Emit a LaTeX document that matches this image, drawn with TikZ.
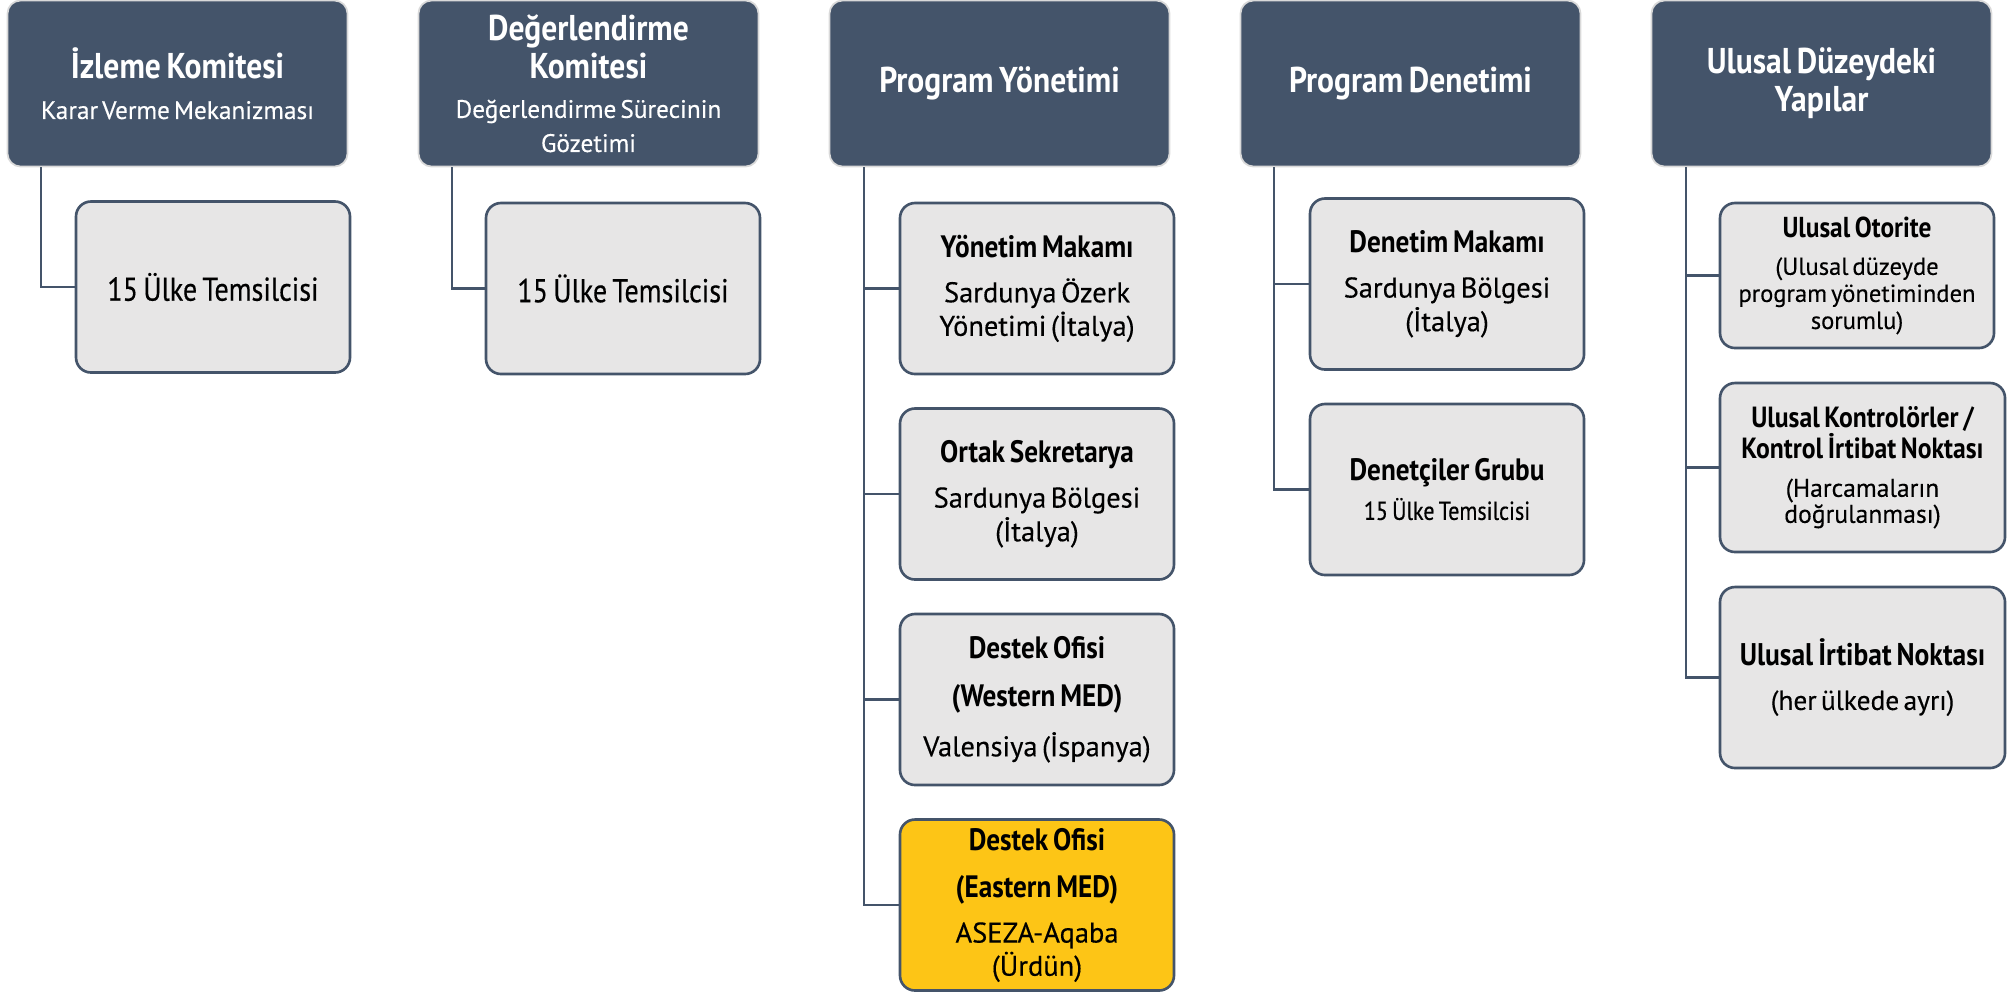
\documentclass[tikz,border=0pt]{standalone}
\usepackage{fontspec}
\setmainfont{PT Sans}[
  UprightFeatures={FakeBold=0.3},
  BoldFeatures={FakeStretch=0.88}]
\newfontfamily\condfont{PT Sans}[FakeStretch=0.85,FakeBold=0.4]
\usetikzlibrary{positioning}

\definecolor{slate}{HTML}{44546A}
\definecolor{boxgray}{HTML}{E7E6E6}
\definecolor{hdrline}{HTML}{D9D9D9}
\definecolor{eastyellow}{HTML}{FDC516}

\newcommand{\setfs}[2]{\fontsize{#1}{#2}\selectfont\spaceskip=0.16em\relax}
\newcommand{\hdtitle}{\bfseries\setfs{10.2}{10.8}}
\newcommand{\hdsub}{\setfs{7.2}{9.7}}
\newcommand{\bxtitle}{\bfseries\setfs{8.8}{9}}
\newcommand{\bxtext}{\setfs{8.1}{8.3}}
\newcommand{\gap}{\vspace{4.5pt}}

\begin{document}
\begin{tikzpicture}[x=0.1mm,y=-0.1mm,node distance=41.1mm,
  head node/.style={rectangle,rounded corners=1.3mm,fill=slate,draw=hdrline,
    line width=0.5pt,text=white,minimum width=34mm,minimum height=16.6mm,
    text width=33mm,align=center,inner sep=1pt},
  unit node/.style={rectangle,rounded corners=1.5mm,fill=boxgray,draw=slate,
    line width=0.75pt,minimum width=27.4mm,minimum height=17.1mm,
    text width=26.6mm,align=center,inner sep=1pt},
  link/.style={draw=slate,line width=0.6pt}]
  \useasboundingbox (0,0) rectangle (2008,991);

  % ust basliklar
  \node[head node] (H1) at (177.5,83.5)
    {{\hdtitle İzleme Komitesi\par}\vspace{1.8pt}{\hdsub Karar Verme Mekanizması\par}};
  \node[head node] (H2) [right of=H1]
    {{\hdtitle Değerlendirme\\Komitesi\par}\vspace{1.5pt}{\hdsub Değerlendirme Sürecinin\\Gözetimi\par}};
  \node[head node] (H3) [right of=H2] {{\hdtitle Program Yönetimi\par}};
  \node[head node] (H4) [right of=H3] {{\hdtitle Program Denetimi\par}};
  \node[head node] (H5) [right of=H4] {{\hdtitle Ulusal Düzeydeki\\Yapılar\par}};

  % komiteler
  \node[unit node] (C1) at (213,287)
    {{\condfont\setfs{9.4}{10}15 Ülke Temsilcisi\par}};
  \node[unit node] (C2) at (623,288.5)
    {{\condfont\setfs{9.4}{10}15 Ülke Temsilcisi\par}};

  % program yonetimi
  \node[unit node] (C3a) at (1037,288.5)
    {{\bxtitle Yönetim Makamı\par}\gap{\bxtext Sardunya Özerk\\Yönetimi (İtalya)\par}};
  \node[unit node] (C3b) [below of=C3a,node distance=20.55mm]
    {{\bxtitle Ortak Sekretarya\par}\gap{\bxtext Sardunya Bölgesi\\(İtalya)\par}};
  \node[unit node] (C3c) [below of=C3b,node distance=20.55mm]
    {{\bxtitle Destek Ofisi\par}\gap{\bxtitle (Western MED)\par}\gap{\bxtext Valensiya (İspanya)\par}};
  \node[unit node,fill=eastyellow] (C3d) [below of=C3c,node distance=20.55mm]
    {{\bxtitle Destek Ofisi\par}\gap{\bxtitle (Eastern MED)\par}\gap{\bxtext ASEZA-Aqaba\\(Ürdün)\par}};

  % denetim
  \node[unit node] (C4a) at (1447,284)
    {{\bxtitle Denetim Makamı\par}\gap{\bxtext Sardunya Bölgesi\\(İtalya)\par}};
  \node[unit node] (C4b) [below of=C4a,node distance=20.55mm]
    {{\bxtitle Denetçiler Grubu\par}\vspace{2pt}{\condfont\setfs{7.4}{8}15 Ülke Temsilcisi\par}};

  % ulusal yapilar
  \node[unit node,minimum height=14.5mm] (C5a) at (1857,275.5)
    {{\bfseries\setfs{8.2}{9}Ulusal Otorite\par}\vspace{3pt}%
     {\setfs{7}{7.7}(Ulusal düzeyde\\program yönetiminden\\sorumlu)\par}};
  \node[unit node,minimum width=28.5mm,minimum height=16.9mm,text width=27.6mm] (C5b) at (1862.5,467.5)
    {{\bfseries\setfs{8.3}{8.8}Ulusal Kontrolörler /\\Kontrol İrtibat Noktası\par}\vspace{3.5pt}%
     {\setfs{7.3}{7.4}(Harcamaların\\doğrulanması)\par}};
  \node[unit node,minimum width=28.5mm,minimum height=18.1mm,text width=27.6mm] (C5c) at (1862.5,677.5)
    {{\bfseries\setfs{8.9}{9}Ulusal İrtibat Noktası\par}\gap{\setfs{7.8}{8}(her ülkede ayrı)\par}};

  % baglantilar
  \draw[link] ([xshift=3.4mm]H1.south west) |- (C1.west);
  \draw[link] ([xshift=3.4mm]H2.south west) |- (C2.west);
  \draw[link] ([xshift=3.5mm]H3.south west) |- (C3a.west);
  \draw[link] ([xshift=3.5mm]H3.south west) |- (C3b.west);
  \draw[link] ([xshift=3.5mm]H3.south west) |- (C3c.west);
  \draw[link] ([xshift=3.5mm]H3.south west) |- (C3d.west);
  \draw[link] ([xshift=3.4mm]H4.south west) |- (C4a.west);
  \draw[link] ([xshift=3.4mm]H4.south west) |- (C4b.west);
  \draw[link] ([xshift=3.5mm]H5.south west) |- (C5a.west);
  \draw[link] ([xshift=3.5mm]H5.south west) |- (C5b.west);
  \draw[link] ([xshift=3.5mm]H5.south west) |- (C5c.west);
\end{tikzpicture}
\end{document}
